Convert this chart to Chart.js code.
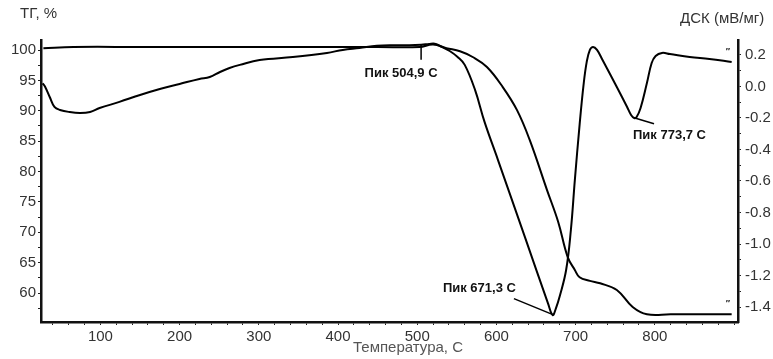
<!DOCTYPE html>
<html>
<head>
<meta charset="utf-8">
<script src="https://cdn.jsdelivr.net/npm/chart.js@4/dist/chart.umd.min.js"></script>
<style>
  html, body { margin: 0; padding: 0; background: #fff; }
  #wrap { width: 773px; height: 359px; position: relative; }
</style>
</head>
<body>
<div id="wrap"><canvas id="myChart" width="773" height="359"></canvas></div>
<script>
'use strict'

// ТГ кривая (температура, %)
const tgTemp  = [28, 66, 150, 250, 350, 450, 503, 520, 537, 554, 570, 588, 608, 626, 642, 664, 678, 690, 699, 705, 718, 731, 752, 772, 790, 820, 860, 897];
const tgValue = [100.3, 100.5, 100.5, 100.5, 100.5, 100.5, 100.5, 100.9, 100.3, 99.8, 98.85, 97.2, 93.9, 90.1, 85.2, 76.9, 71.7, 65.9, 63.8, 62.6, 62.0, 61.6, 60.5, 57.7, 56.5, 56.5, 56.5, 56.5];

// ДСК кривая (температура, мВ/мг)
const dscTemp  = [27, 30, 36, 42, 49, 61, 74, 87, 99, 124, 150, 175, 200, 225, 238, 251, 263, 276, 301, 343, 386, 406, 427, 449, 469, 490, 505, 515, 522, 529, 541, 551, 560, 573, 585, 602, 636, 665, 671, 675, 680, 688, 694, 699, 705, 710, 714, 718, 722, 727, 734, 752, 765, 770, 774, 777, 782, 790, 796, 801, 809, 819, 844, 869, 897];
const dscValue = [0.02, 0.0, -0.067, -0.13, -0.149, -0.162, -0.168, -0.162, -0.137, -0.098, -0.054, -0.016, 0.016, 0.048, 0.06, 0.092, 0.117, 0.137, 0.168, 0.187, 0.213, 0.232, 0.244, 0.258, 0.262, 0.262, 0.265, 0.27, 0.272, 0.257, 0.225, 0.187, 0.137, -0.022, -0.225, -0.467, -0.956, -1.375, -1.451, -1.41, -1.33, -1.165, -0.911, -0.594, -0.244, 0.01, 0.156, 0.232, 0.251, 0.232, 0.168, -0.003, -0.13, -0.181, -0.2, -0.194, -0.137, 0.022, 0.149, 0.194, 0.213, 0.206, 0.187, 0.175, 0.156];

// пики
const peakTemp  = [504.9, 671.3, 773.7];
const peakLabel = ['Пик 504,9 С', 'Пик 671,3 С', 'Пик 773,7 С'];

// тики
const xTicks = [];
for (let t = 40; t <= 900; t += 20) xTicks.push(t);
const leftTicks = [57.5, 60, 62.5, 65, 67.5, 70, 72.5, 75, 77.5, 80, 82.5, 85, 87.5, 90, 92.5, 95, 97.5, 100];
const rightTicks = [-1.4, -1.3, -1.2, -1.1, -1.0, -0.9, -0.8, -0.7, -0.6, -0.5, -0.4, -0.3, -0.2, -0.1, 0.0, 0.1, 0.2];

const FONT = 'Liberation Sans';

function toPoints(xs, ys) {
  return xs.map((x, i) => ({ x: x, y: ys[i] }));
}

function interp(xs, ys, t) {
  for (let i = 1; i < xs.length; i++) {
    if (t <= xs[i]) {
      const k = (t - xs[i - 1]) / (xs[i] - xs[i - 1]);
      return ys[i - 1] + k * (ys[i] - ys[i - 1]);
    }
  }
  return ys[ys.length - 1];
}

// подписи и пики
const textPlugin = {
  id: 'texts',
  afterDraw(chart) {
    const c = chart.ctx;
    const xs = chart.scales.x;
    const yr = chart.scales.y2;
    c.save();
    c.fillStyle = '#333';
    c.font = '15px "' + FONT + '"';
    c.textBaseline = 'middle';
    c.textAlign = 'left';
    c.fillText('ТГ, %', 20, 14);
    c.fillText('ДСК (мВ/мг)', 680, 19);
    c.textAlign = 'center';
    c.fillStyle = '#555';
    c.fillText('Температура, С', 408, 348);

    c.strokeStyle = '#000';
    c.lineWidth = 1.5;
    c.fillStyle = '#111';
    c.font = 'bold 13px "' + FONT + '"';
    const offs = [
      { lx: 0, ly: 15, tx: -20, ty: 29, align: 'center' },
      { lx: -39, ly: -16, tx: -37, ty: -26, align: 'right' },
      { lx: 20, ly: 6, tx: -1, ty: 18, align: 'left' }
    ];
    peakTemp.forEach((t, i) => {
      const px = xs.getPixelForValue(t);
      const py = yr.getPixelForValue(interp(dscTemp, dscValue, t));
      const o = offs[i];
      c.beginPath();
      c.moveTo(px, py);
      c.lineTo(px + o.lx, py + o.ly);
      c.stroke();
      c.textAlign = o.align;
      c.fillText(peakLabel[i], px + o.tx, py + o.ty);
    });

    // маленькие метки у концов кривых
    c.font = 'bold 9px "' + FONT + '"';
    c.textAlign = 'center';
    c.fillText('\u2033', 728, 52);
    c.fillText('\u2033', 728, 304);
    c.restore();
  }
};

const ctx = document.getElementById('myChart');
window.myChart = new Chart(ctx, {
  type: 'line',
  data: {
    datasets: [{
      label: 'ТГ',
      data: toPoints(tgTemp, tgValue),
      yAxisID: 'y',
      borderColor: '#000',
      borderWidth: 2,
      pointRadius: 0,
      tension: 0.4,
      fill: false
    }, {
      label: 'ДСК',
      data: toPoints(dscTemp, dscValue),
      yAxisID: 'y2',
      borderColor: '#000',
      borderWidth: 2,
      pointRadius: 0,
      tension: 0.4,
      fill: false
    }]
  },
  options: {
    responsive: false,
    animation: false,
    layout: { padding: { top: 40, left: 0, right: 0, bottom: 0 } },
    plugins: { legend: { display: false }, tooltip: { enabled: false } },
    scales: {
      x: {
        type: 'linear',
        min: 25,
        max: 905,
        afterBuildTicks: (s) => { s.ticks = xTicks.map(v => ({ value: v })); },
        afterFit: (s) => { s.height = 37; },
        ticks: {
          autoSkip: false,
          maxRotation: 0,
          padding: 3,
          color: '#333',
          font: { family: FONT, size: 15 },
          callback: (v) => (v % 100 === 0 && v >= 100 && v <= 800) ? String(v) : ''
        },
        grid: { drawOnChartArea: false, drawTicks: true, tickLength: 3, color: '#222' },
        border: { display: true, color: '#111', width: 2.5 }
      },
      y: {
        position: 'left',
        min: 55.23,
        max: 101.65,
        afterBuildTicks: (s) => { s.ticks = leftTicks.map(v => ({ value: v })); },
        afterFit: (s) => { s.width = 41; },
        ticks: {
          autoSkip: false,
          padding: 2,
          color: '#333',
          font: { family: FONT, size: 15 },
          callback: (v) => (v % 5 === 0) ? String(v) : ''
        },
        grid: { drawOnChartArea: false, drawTicks: true, tickLength: 3, color: '#222' },
        border: { display: true, color: '#111', width: 2.5 }
      },
      y2: {
        position: 'right',
        min: -1.495,
        max: 0.295,
        afterBuildTicks: (s) => { s.ticks = rightTicks.map(v => ({ value: v })); },
        afterFit: (s) => { s.width = 35; },
        ticks: {
          autoSkip: false,
          padding: 4,
          color: '#333',
          font: { family: FONT, size: 15 },
          callback: (v) => (Math.round(v * 10) % 2 === 0) ? v.toFixed(1) : ''
        },
        grid: { drawOnChartArea: false, drawTicks: true, tickLength: 3, color: '#222' },
        border: { display: true, color: '#111', width: 2.5 }
      }
    }
  },
  plugins: [textPlugin]
});
</script>
</body>
</html>
